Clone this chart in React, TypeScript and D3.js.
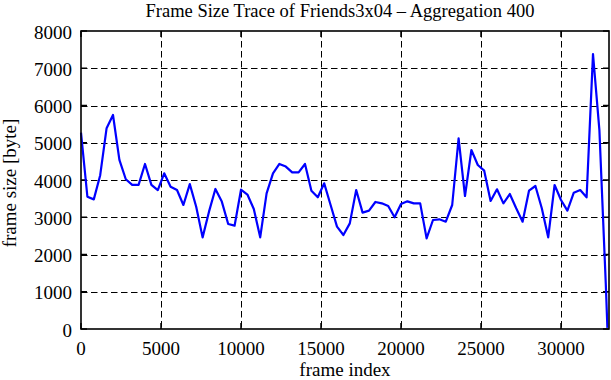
import React, { useRef, useEffect } from 'react';
import * as d3 from 'd3';

// frame index of each aggregated sample (aggregation window 400)
const frameIndex = [
  0, 400, 800, 1200, 1600, 2000, 2400, 2800, 3200, 3600,
  4000, 4400, 4800, 5200, 5600, 6000, 6400, 6800, 7200, 7600,
  8000, 8400, 8800, 9200, 9600, 10000, 10400, 10800, 11200, 11600,
  12000, 12400, 12800, 13200, 13600, 14000, 14400, 14800, 15200, 15600,
  16000, 16400, 16800, 17200, 17600, 18000, 18400, 18800, 19200, 19600,
  20000, 20400, 20800, 21200, 21600, 22000, 22400, 22800, 23200, 23600,
  24000, 24400, 24800, 25200, 25600, 26000, 26400, 26800, 27200, 27600,
  28000, 28400, 28800, 29200, 29600, 30000, 30400, 30800, 31200, 31600,
  32000, 32400, 32800, 32900,
];

// mean frame size in bytes
const frameSize = [
  5270, 3550, 3480, 4130, 5390, 5745, 4540, 4020, 3870, 3870,
  4430, 3870, 3730, 4180, 3820, 3730, 3330, 3890, 3280, 2460,
  3150, 3760, 3420, 2820, 2775, 3740, 3610, 3220, 2460, 3640,
  4180, 4430, 4360, 4206, 4206, 4430, 3713, 3535, 3911, 3329,
  2747, 2523, 2836, 3731, 3123, 3177, 3410, 3373, 3302, 2998,
  3356, 3427, 3373, 3373, 2434, 2926, 2944, 2881, 3329, 5119,
  3570, 4805, 4403, 4250, 3436, 3750, 3373, 3624, 3240, 2881,
  3713, 3839, 3240, 2461, 3866, 3463, 3177, 3660, 3731, 3535,
  7380, 5340, 1200, 30,
];

const xTicks = [0, 5000, 10000, 15000, 20000, 25000, 30000];
const yTicks = [0, 1000, 2000, 3000, 4000, 5000, 6000, 7000, 8000];

const App = () => {
  const chartRef = useRef(null);

  useEffect(() => {
    const width = 611;
    const height = 380;
    const margin = { top: 31, right: 2, bottom: 51, left: 81 };
    const font = '"Liberation Serif", "Times New Roman", serif';

    const svg = d3.select(chartRef.current)
      .attr('width', width)
      .attr('height', height);
    svg.selectAll('*').remove();

    const x = d3.scaleLinear().domain([0, 33000]).range([margin.left, width - margin.right]);
    const y = d3.scaleLinear().domain([0, 8000]).range([height - margin.bottom, margin.top]);

    const [x0, x1] = x.range();
    const [y0, y1] = y.range();

    // grid
    const grid = svg.append('g')
      .attr('stroke', '#000')
      .attr('stroke-width', 1)
      .attr('stroke-dasharray', '6.5,3.5');
    grid.selectAll('line.v')
      .data(xTicks.filter(d => d > 0))
      .enter().append('line')
      .attr('x1', d => Math.round(x(d)) + 0.5)
      .attr('x2', d => Math.round(x(d)) + 0.5)
      .attr('y1', y1)
      .attr('y2', y0);
    grid.selectAll('line.h')
      .data(yTicks.filter(d => d > 0 && d < 8000))
      .enter().append('line')
      .attr('x1', x0)
      .attr('x2', x1)
      .attr('y1', d => Math.round(y(d)) + 0.5)
      .attr('y2', d => Math.round(y(d)) + 0.5);

    // inward ticks on all sides
    const ticks = svg.append('g').attr('stroke', '#000').attr('stroke-width', 1.5);
    xTicks.forEach(d => {
      ticks.append('line').attr('x1', x(d)).attr('x2', x(d)).attr('y1', y0).attr('y2', y0 - 6);
      ticks.append('line').attr('x1', x(d)).attr('x2', x(d)).attr('y1', y1).attr('y2', y1 + 6);
    });
    yTicks.forEach(d => {
      ticks.append('line').attr('x1', x0).attr('x2', x0 + 6).attr('y1', y(d)).attr('y2', y(d));
      ticks.append('line').attr('x1', x1).attr('x2', x1 - 6).attr('y1', y(d)).attr('y2', y(d));
    });

    // data line
    const line = d3.line()
      .x((d, i) => x(frameIndex[i]))
      .y(d => y(d));

    svg.append('path')
      .datum(frameSize)
      .attr('fill', 'none')
      .attr('stroke', '#0000ff')
      .attr('stroke-width', 2.2)
      .attr('stroke-linejoin', 'round')
      .attr('d', line);

    // border
    svg.append('rect')
      .attr('x', x0)
      .attr('y', y1)
      .attr('width', x1 - x0)
      .attr('height', y0 - y1)
      .attr('fill', 'none')
      .attr('stroke', '#000')
      .attr('stroke-width', 1.6);

    // tick labels
    svg.append('g')
      .selectAll('text')
      .data(xTicks)
      .enter().append('text')
      .attr('x', d => x(d))
      .attr('y', 355)
      .attr('text-anchor', 'middle')
      .style('font-family', font)
      .style('font-size', '19px')
      .text(d => d);

    svg.append('g')
      .selectAll('text')
      .data(yTicks)
      .enter().append('text')
      .attr('x', 72)
      .attr('y', d => y(d) + 7.5)
      .attr('text-anchor', 'end')
      .style('font-family', font)
      .style('font-size', '19px')
      .text(d => d);

    // titles
    svg.append('text')
      .attr('x', 340)
      .attr('y', 17)
      .attr('text-anchor', 'middle')
      .style('font-family', font)
      .style('font-size', '18.5px')
      .text('Frame Size Trace of Friends3x04 – Aggregation 400');

    svg.append('text')
      .attr('x', (x0 + x1) / 2)
      .attr('y', 376)
      .attr('text-anchor', 'middle')
      .style('font-family', font)
      .style('font-size', '19px')
      .text('frame index');

    svg.append('text')
      .attr('transform', `translate(16,${(y0 + y1) / 2 + 3}) rotate(-90)`)
      .attr('text-anchor', 'middle')
      .style('font-family', font)
      .style('font-size', '19px')
      .text('frame size [byte]');
  }, []);

  return (
    <div style={{ position: 'absolute', left: 0, top: 0, background: '#fff' }}>
      <svg ref={chartRef} style={{ display: 'block' }}></svg>
    </div>
  );
};

export default App;
